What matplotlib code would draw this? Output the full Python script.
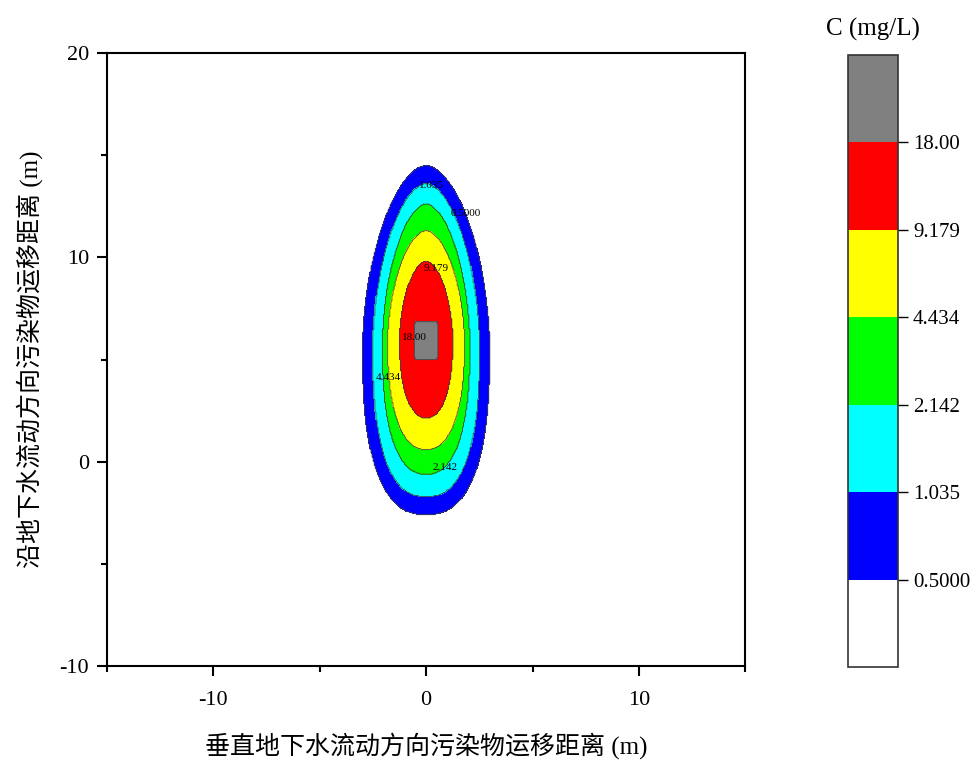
import numpy as np
import matplotlib.pyplot as plt

plt.rcParams['font.family'] = ['Liberation Serif', 'Noto Sans CJK SC']
plt.rcParams['axes.unicode_minus'] = False

# contour levels of C (mg/L)
levels = [0.5, 1.035, 2.142, 4.434, 9.179, 18.0]
label_text = ['0.5000', '1.035', '2.142', '4.434', '9.179', '18.00']
band_colors = ['white', '#0000ff', '#00ffff', '#00ff00', '#ffff00', '#ff0000', '#808080']

# extent of the zone C >= level (m)
zone_top = [14.5, 13.6, 12.6, 11.3, 9.8, 6.85]
zone_bottom = [-2.6, -1.7, -0.6, 0.6, 2.15, 5.0]
zone_mid = [5.5, 5.6, 5.7, 5.8, 5.9, 5.92]       # y where the zone is widest
zone_halfwidth = [3.0, 2.5, 2.05, 1.8, 1.25, 0.55]
# plume is more pointed downstream (top), source cell is almost square
shape_top = [1.8, 1.8, 1.8, 1.8, 1.8, 10]
shape_bottom = [2.5, 2.5, 2.4, 2.3, 2.2, 10]

# where the contour labels sit
label_pos = [(1.9, 12.2), (0.3, 13.6), (0.85, -0.25), (-1.75, 4.1), (0.5, 9.5), (-0.55, 6.1)]

bounds = [-1.0] + levels + [30.0]

# rebuild gridded concentration from the zones
gx = np.arange(-15.025, 15.03, 0.05)
gy = np.arange(-10.025, 20.03, 0.05)
X, Y = np.meshgrid(gx, gy)
Z = np.zeros_like(X)
for i in range(len(levels)):
    m = zone_mid[i]
    a = zone_halfwidth[i]
    up = Y >= m
    b = np.where(up, zone_top[i] - m, m - zone_bottom[i])
    p = np.where(up, shape_top[i], shape_bottom[i])
    inside = np.abs(X / a) ** p + np.abs((Y - m) / b) ** p <= 1
    Z[inside] = (bounds[i + 1] + bounds[i + 2]) / 2

fig = plt.figure(figsize=(9.79, 7.67), dpi=100)
ax = fig.add_axes([0.1093, 0.1317, 0.652, 0.799])
cax = fig.add_axes([0.866, 0.1304, 0.051, 0.798])

cf = ax.contourf(X, Y, Z, levels=bounds, colors=band_colors)
cs = ax.contour(X, Y, Z, levels=levels, colors='#404040', linewidths=0.6)
fmt = dict(zip(cs.levels, label_text))
labels = ax.clabel(cs, fmt=fmt, manual=label_pos, fontsize=8, colors='black', inline=False)
for t in labels:
    t.set_rotation(0)

ax.set_xlim(-15, 15)
ax.set_ylim(-10, 20)
ax.set_xticks([-10, 0, 10])
ax.set_xticks([-15, -5, 5, 15], minor=True)
ax.set_yticks([-10, 0, 10, 20])
ax.set_yticks([-5, 5, 15], minor=True)
ax.tick_params(which='major', direction='out', length=7, width=1.5, labelsize=16)
ax.tick_params(which='minor', direction='out', length=4, width=1.5)
ax.tick_params(axis='x', which='major', pad=11)
ax.tick_params(axis='y', which='major', pad=6)
for s in ax.spines.values():
    s.set_linewidth(1.5)
ax.set_xlabel('垂直地下水流动方向污染物运移距离 (m)', fontsize=18, labelpad=16)
ax.set_ylabel('沿地下水流动方向污染物运移距离 (m)', fontsize=18, labelpad=12)

cb = fig.colorbar(cf, cax=cax, ticks=levels)
cb.ax.set_yticklabels(label_text)
cb.ax.tick_params(direction='out', length=7, width=1, labelsize=15, pad=4)
cb.outline.set_linewidth(1.2)
cb.outline.set_edgecolor('#333333')
cax.set_title('C (mg/L)', fontsize=18, pad=14)

fig.savefig('out.png', dpi=100)
